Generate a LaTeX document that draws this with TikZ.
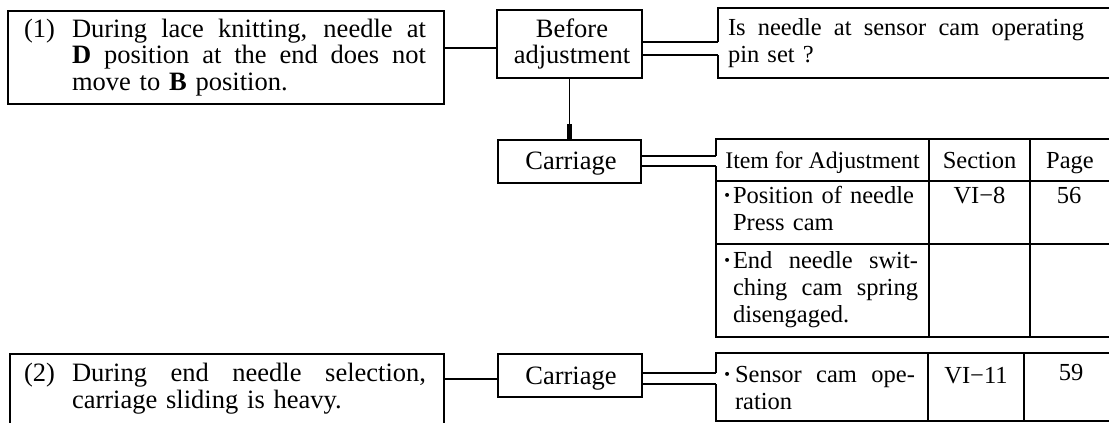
\documentclass[tikz,border=0pt]{standalone}
\usepackage{fontspec}
\setmainfont{Liberation Serif}
\usetikzlibrary{calc}
\newcommand{\jline}[2]{\makebox[#1][s]{\spaceskip=0pt\xspaceskip=0pt\relax #2}}
\tikzset{
  ln/.style={line width=1.6pt},
  txt/.style={font=\fontsize{24.5}{27}\selectfont, inner sep=0pt, outer sep=0pt},
  htxt/.style={font=\fontsize{23.8}{27}\selectfont, inner sep=0pt, outer sep=0pt},
  btxt/.style={font=\fontsize{26.5}{27}\selectfont, inner sep=0pt, outer sep=0pt},
  frame/.style={inner sep=0pt, outer sep=0pt, anchor=north west},
  boxed/.style={frame, draw, ln},
}
\begin{document}
\begin{tikzpicture}[x=1pt,y=-1pt]
\useasboundingbox (0,0) rectangle (1109,423);

% ---------- row (1) ----------
\node[boxed, minimum width=436pt, minimum height=93pt] (b1) at (8,11) {};
\node[btxt, anchor=base west] (b1num) at (24,37) {(1)};
\node[btxt, anchor=base west, text width=354pt, align=left] (b1txt) at (72,37)
  {\jline{354pt}{During lace knitting, needle at}\\
   \jline{354pt}{\textbf{D} position at the end does not}\\
   move to \textbf{B} position.};

\node[boxed, minimum width=145pt, minimum height=68pt] (bef) at (497,10) {};
\node[btxt, anchor=base, text width=145pt, align=center] (beftxt) at (572,37) {Before\\adjustment};

\draw[ln] (b1.east |- 0,48) -- (bef.west |- 0,48);

% question box (right side open past the page)
\node[frame, minimum width=422pt, minimum height=70pt] (q) at (718,8) {};
\coordinate (qa) at (718,42);
\coordinate (qb) at (718,55);
\draw[ln] (qa) -- (q.north west) -- (q.north east) -- (q.south east) -- (q.south west) -- (qb);
\draw[ln] (bef.east |- qa) -- (qa);
\draw[ln] (bef.east |- qb) -- (qb);
\node[txt, anchor=base west, text width=356pt, align=left] (qtxt) at (728,35)
  {\jline{356pt}{Is needle at sensor cam operating}\\pin set ?};

% carriage 1
\node[boxed, minimum width=143pt, minimum height=43pt] (c1) at (498,140) {};
\node[btxt, anchor=base] (c1txt) at (571,169) {Carriage};
\draw[ln] (bef.south) -- (c1.north);
\draw[line width=4.5pt] ($(c1.north)+(0,-1)$) -- ++(0,-15);

% table 1
\node[frame, minimum width=420pt, minimum height=198pt] (t1) at (716,139) {};
\coordinate (ta) at (716,156);
\coordinate (tb) at (716,166);
\draw[ln] (ta) -- (t1.north west) -- (t1.north east) -- (t1.south east) -- (t1.south west) -- (tb);
\draw[ln] (c1.east |- ta) -- (ta);
\draw[ln] (c1.east |- tb) -- (tb);
\draw[ln] (716,181) -- (1136,181);
\draw[ln] (716,244) -- (1136,244);
\draw[ln] (929,139) -- (929,337);
\draw[ln] (1030,139) -- (1030,337);

\node[htxt, anchor=base] (h1) at (822.5,168) {Item for Adjustment};
\node[txt, anchor=base] (h2) at (979.5,168) {Section};
\node[txt, anchor=base] (h3) at (1070,168) {Page};

\node[txt, anchor=base west] (r1dot) at (723,203) {\textbf{·}};
\node[txt, anchor=base west, text width=185pt, align=left] (r1txt) at (733,203)
  {Position of needle\\Press cam};
\node[txt, anchor=base] (r1sec) at (979.5,203) {VI−8};
\node[txt, anchor=base] (r1pg) at (1069,203) {56};

\node[txt, anchor=base west] (r2dot) at (723,268) {\textbf{·}};
\node[txt, anchor=base west, text width=185pt, align=left] (r2txt) at (733,268)
  {\jline{185pt}{End needle swit-}\\
   \jline{185pt}{ching cam spring}\\
   disengaged.};

% ---------- row (2) ----------
\node[boxed, minimum width=434pt, minimum height=100pt] (b2) at (10,354) {};
\node[btxt, anchor=base west] (b2num) at (24,381) {(2)};
\node[btxt, anchor=base west, text width=354pt, align=left] (b2txt) at (72,381)
  {\jline{354pt}{During end needle selection,}\\
   carriage sliding is heavy.};

\node[boxed, minimum width=144pt, minimum height=43pt] (c2) at (498,354) {};
\node[btxt, anchor=base] (c2txt) at (571,384) {Carriage};
\draw[ln] (b2.east |- 0,379) -- (c2.west |- 0,379);

\node[frame, minimum width=420pt, minimum height=68pt] (t2) at (716,353) {};
\coordinate (tc) at (716,373);
\coordinate (td) at (716,384);
\draw[ln] (tc) -- (t2.north west) -- (t2.north east) -- (t2.south east) -- (t2.south west) -- (td);
\draw[ln] (c2.east |- tc) -- (tc);
\draw[ln] (c2.east |- td) -- (td);
\draw[ln] (928,353) -- (928,421);
\draw[ln] (1024,353) -- (1024,421);

\node[txt, anchor=base west] (s1dot) at (723,382) {\textbf{·}};
\node[txt, anchor=base west, text width=180pt, align=left] (s1txt) at (735,382)
  {\jline{180pt}{Sensor cam ope-}\\ration};
\node[txt, anchor=base] (s1sec) at (976,383) {VI−11};
\node[txt, anchor=base] (s1pg) at (1071,380) {59};
\end{tikzpicture}
\end{document}
